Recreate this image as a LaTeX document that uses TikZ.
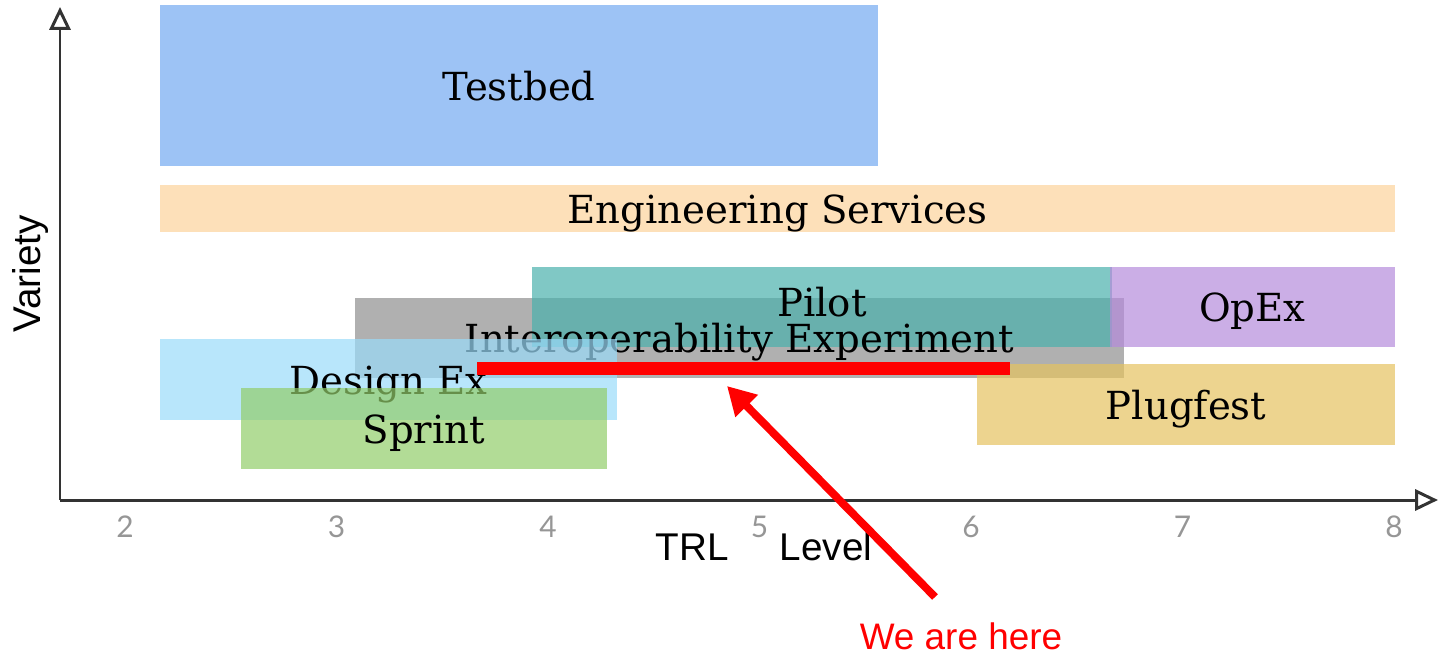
\documentclass[tikz,border=0pt]{standalone}
\usepackage{fontspec}
\setmainfont{DejaVu Serif}
\newfontfamily\axisfont{Liberation Sans}
\newfontfamily\tickfont{Lato}
\usetikzlibrary{arrows.meta}
\definecolor{testbedblue}{RGB}{157,195,245}
\definecolor{engpeach}{RGB}{253,224,185}
\definecolor{iegrey}{RGB}{142,142,142}
\definecolor{pilotteal}{RGB}{74,176,172}
\definecolor{designcyan}{RGB}{154,219,249}
\definecolor{sprintgreen}{RGB}{146,205,106}
\definecolor{opexpurple}{RGB}{181,139,219}
\definecolor{plugtan}{RGB}{229,194,95}
\definecolor{axisgrey}{RGB}{51,51,51}
\definecolor{tickgrey}{RGB}{150,150,150}
\definecolor{hered}{RGB}{255,0,0}
\tikzset{
  bandtext/.style={font=\fontsize{22}{26}\selectfont, text height=17pt, text depth=0pt,
    inner sep=0pt, text opacity=1},
  band/.style 2 args={rectangle, bandtext, minimum width=#1*0.02cm,
    minimum height=#2*0.02cm},
  seethru/.style={fill opacity=0.7},
  tick/.style={text=tickgrey, font=\tickfont\fontsize{17}{20}\selectfont},
  axislabel/.style={font=\axisfont\fontsize{22}{26}\selectfont},
  axisline/.style={axisgrey, line width=1.7pt, -{Triangle[open, length=13pt, width=12pt]}}
}
\begin{document}
\begin{tikzpicture}[x=0.02cm, y=-0.02cm]
\useasboundingbox (0,0) rectangle (1445,657);
\coordinate (origin) at (60,500);
\coordinate (ytop) at (60,7);
\coordinate (xend) at (1438,500);
\draw [axisline] (origin) -- (ytop);
\draw [axisline] (origin) -- (xend);
\foreach \k in {2,...,8}
  \node [tick] (tick\k) at ({125+211.5*(\k-2)},527) {\k};
\node [axislabel] (trl) at (692,547) {TRL};
\node [axislabel] (level) at (826,547) {Level};
\node [axislabel, rotate=90] (variety) at (31,274) {Variety};
\node [band={718}{161}, fill=testbedblue] (testbed) at (519,85.5) {Testbed};
\node [band={1235}{47}, fill=engpeach] (engserv) at (777.5,208.5) {Engineering Services};
\node [band={769}{80}, fill=iegrey, seethru] (interop) at (739.5,338) {};
\node [band={418}{81}, fill=plugtan, seethru] (plugfest) at (1186,404.5) {Plugfest};
\node [band={580}{80}, fill=pilotteal, seethru] (pilot) at (822,307) {};
\node [bandtext] (pilotlabel) at ([yshift=0.1cm]pilot.center) {Pilot};
\node [band={285}{80}, fill=opexpurple, seethru] (opex) at (1252.5,307) {OpEx};
\node [bandtext] (interoplabel) at (interop.center) {Interoperability Experiment};
\node [band={457}{81}, fill=designcyan, seethru] (designex) at (388.5,379.5) {Design Ex};
\node [band={366}{81}, fill=sprintgreen, seethru] (sprint) at (424,428.5) {Sprint};
\node [rectangle, inner sep=0pt, minimum width=533*0.02cm, minimum height=13*0.02cm,
  fill=hered] (nowbar) at (743.5,368.5) {};
\node [text=hered, font=\axisfont\fontsize{21}{25}\selectfont] (here) at (961,636) {We are here};
\coordinate (herefoot) at (935,597);
\coordinate (heretip) at (727,386);
\draw [hered, line width=4.5pt, -{Triangle[length=16pt, width=17pt]}] (herefoot) -- (heretip);
\end{tikzpicture}
\end{document}
